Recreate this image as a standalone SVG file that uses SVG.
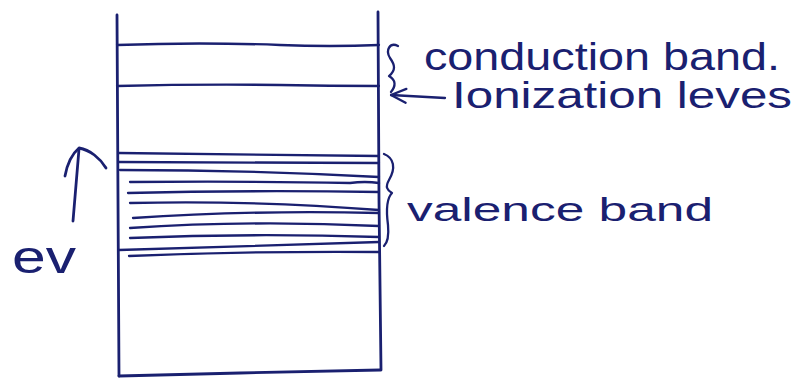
<svg xmlns="http://www.w3.org/2000/svg" width="794" height="380" viewBox="0 0 794 380">
<style>
.ink{fill:none;stroke:#1a2070;stroke-linecap:round;stroke-linejoin:round}
.edge{stroke-width:2.8}
.lvl{stroke-width:2.3}
.lbl{font-family:"Liberation Sans","DejaVu Sans",sans-serif;fill:#1a2070}
</style>
<defs>
<marker id="ah" viewBox="0 0 18 18" refX="17" refY="9" markerWidth="18" markerHeight="18" markerUnits="userSpaceOnUse" orient="auto">
<path d="M2,2 L17,9 L2,16" fill="none" stroke="#1a2070" stroke-width="2.3" stroke-linecap="round" stroke-linejoin="round"/>
</marker>
</defs>
<rect width="794" height="380" fill="#ffffff"/>
<g id="energy-box">
<path class="ink edge" d="M117,15 L118,200 L119,376"/>
<path class="ink edge" d="M378,12 L379,200 L381,370"/>
<path class="ink edge" d="M119,376 L240,373 L380,370"/>
</g>
<g id="conduction-band">
<path class="ink lvl" d="M117,45 Q200,42 280,45 Q330,47 379,45"/>
<path class="ink lvl" d="M117,86 Q200,84 280,85 Q330,86 379,86"/>
</g>
<g id="valence-band">
<path class="ink lvl" d="M119,153 Q250,154 379,156"/>
<path class="ink lvl" d="M119,162 Q250,162 379,163"/>
<path class="ink lvl" d="M120,170 Q250,170 379,177"/>
<path class="ink lvl" d="M130,182 Q250,181 350,183 Q365,181 379,183"/>
<path class="ink lvl" d="M128,193 Q250,190 379,192"/>
<path class="ink lvl" d="M130,203 Q250,200 379,210"/>
<path class="ink lvl" d="M133,218 Q250,210 379,213"/>
<path class="ink lvl" d="M130,228 Q250,220 379,226"/>
<path class="ink lvl" d="M130,238 Q250,233 379,237"/>
<path class="ink lvl" d="M119,250 Q250,246 379,242"/>
<path class="ink lvl" d="M129,256 Q250,251 379,252"/>
</g>
<g id="conduction-label">
<path class="ink lvl" d="M398,46 C390,42 385,50 390,58 C395,65 396,70 389,76 C396,80 396,86 391,92"/>
<text class="lbl" x="424" y="70" font-size="38" textLength="356" lengthAdjust="spacingAndGlyphs">conduction band.</text>
</g>
<g id="ionization-label">
<text class="lbl" x="452" y="108" font-size="36" textLength="340" lengthAdjust="spacingAndGlyphs">Ionization leves</text>
</g>
<g id="valence-label">
<path class="ink lvl" d="M384,154 C394,158 396,168 389,180 C385,187 387,190 392,193 C387,198 386,210 388,225 C389,236 388,242 384,246"/>
<text class="lbl" x="407" y="221" font-size="34" textLength="306" lengthAdjust="spacingAndGlyphs">valence band</text>
</g>
<g id="ev-label">
<text class="lbl" x="12" y="273" font-size="46" textLength="64" lengthAdjust="spacingAndGlyphs">ev</text>
</g>
<g id="connectors">
<path class="ink lvl" d="M445,98 L391,95" marker-end="url(#ah)"/>
<path class="ink edge" d="M73,221 L79,149"/>
<path class="ink edge" d="M65,176 C67,165 72,154 79,148 C90,150 100,158 106,168"/>
</g>
</svg>
